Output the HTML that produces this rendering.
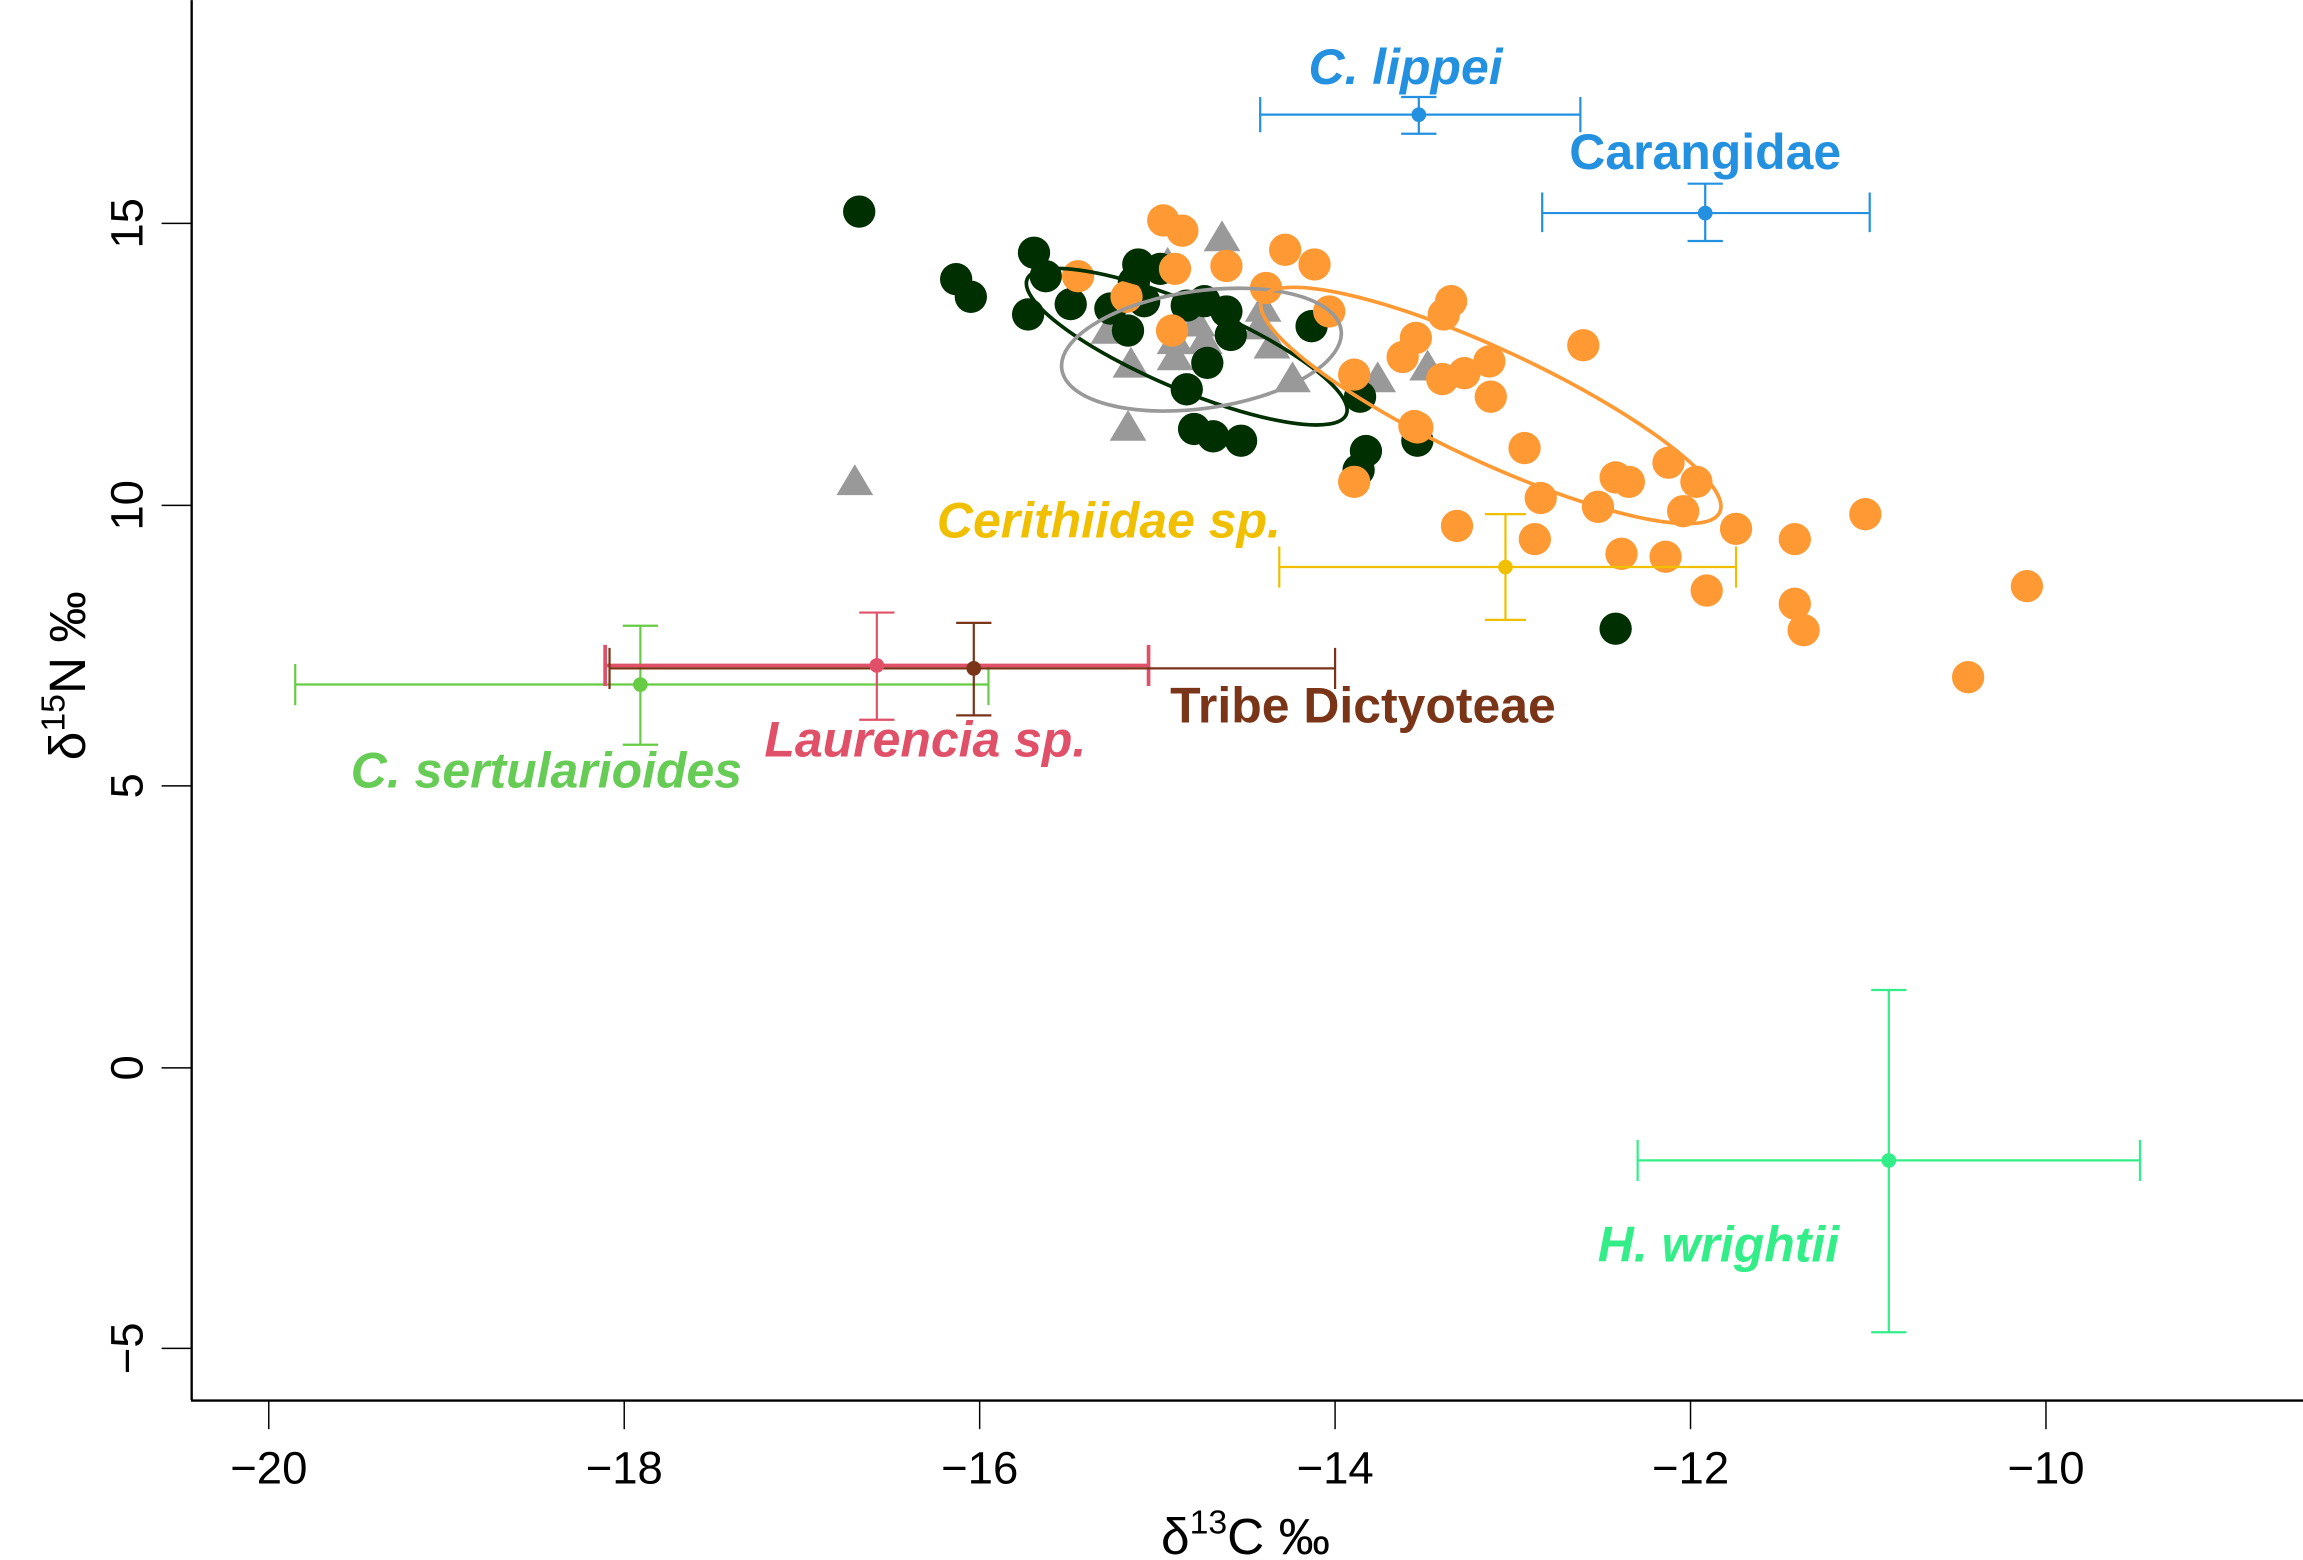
<!DOCTYPE html>
<html><head><style>html,body{margin:0;padding:0;background:#fff}svg{display:block}</style></head>
<body>
<svg width="2303" height="1560" viewBox="0 0 1568 1062" xmlns="http://www.w3.org/2000/svg" font-family="Liberation Sans, Arial, sans-serif">
<rect width="1568" height="1062" fill="#fff"/>
<line x1="130.5" y1="0" x2="130.5" y2="953" stroke="#000" stroke-width="1.6"/>
<line x1="130" y1="953.5" x2="1568" y2="953.5" stroke="#000" stroke-width="1.6"/>
<g stroke="#000" stroke-width="1">
<line x1="183" y1="953" x2="183" y2="973"/><line x1="425" y1="953" x2="425" y2="973"/><line x1="667" y1="953" x2="667" y2="973"/><line x1="909" y1="953" x2="909" y2="973"/><line x1="1151" y1="953" x2="1151" y2="973"/><line x1="1393" y1="953" x2="1393" y2="973"/>
<line x1="110" y1="152" x2="130" y2="152"/><line x1="110" y1="344" x2="130" y2="344"/><line x1="110" y1="535" x2="130" y2="535"/><line x1="110" y1="727" x2="130" y2="727"/><line x1="110" y1="918" x2="130" y2="918"/>
</g>
<g font-size="31" text-anchor="middle" fill="#000">
<text x="183" y="1010">−20</text><text x="425" y="1010">−18</text><text x="667" y="1010">−16</text><text x="909" y="1010">−14</text><text x="1151" y="1010">−12</text><text x="1393" y="1010">−10</text>
<text transform="translate(97,152) rotate(-90)">15</text>
<text transform="translate(97,344) rotate(-90)">10</text>
<text transform="translate(97,535) rotate(-90)">5</text>
<text transform="translate(97,727) rotate(-90)">0</text>
<text transform="translate(97,918) rotate(-90)">−5</text>
</g>
<text x="848" y="1058" font-size="35" text-anchor="middle">δ<tspan font-size="23" dy="-14">13</tspan><tspan dy="14">C ‰</tspan></text>
<text transform="translate(58,460) rotate(-90)" font-size="35" text-anchor="middle">δ<tspan font-size="23" dy="-14">15</tspan><tspan dy="14">N ‰</tspan></text>

<g fill="#999">
<path d="M582,316 l-12.5,21 h25z"/><path d="M832,150 l-12.5,21 h25z"/><path d="M795,168 l-12.5,21 h25z"/><path d="M755,213 l-12.5,21 h25z"/><path d="M770,236 l-12.5,21 h25z"/><path d="M800,220 l-12.5,21 h25z"/><path d="M815,208 l-12.5,21 h25z"/><path d="M860,198 l-12.5,21 h25z"/><path d="M866,223 l-12.5,21 h25z"/><path d="M880,246 l-12.5,21 h25z"/><path d="M938,246 l-12.5,21 h25z"/><path d="M972,238 l-12.5,21 h25z"/><path d="M768,279 l-12.5,21 h25z"/><path d="M820,220 l-12.5,21 h25z"/><path d="M800,231 l-12.5,21 h25z"/><path d="M858,210 l-12.5,21 h25z"/>
</g>
<g fill="#002f02">
<circle cx="585" cy="144" r="11"/><circle cx="651" cy="190" r="11"/><circle cx="661" cy="202" r="11"/><circle cx="704" cy="172" r="11"/><circle cx="712" cy="188" r="11"/><circle cx="700" cy="214" r="11"/><circle cx="729" cy="207" r="11"/><circle cx="756" cy="210" r="11"/><circle cx="768" cy="225" r="11"/><circle cx="775" cy="180" r="11"/><circle cx="772" cy="192" r="11"/><circle cx="779" cy="205" r="11"/><circle cx="808" cy="208" r="11"/><circle cx="820" cy="205" r="11"/><circle cx="835" cy="212" r="11"/><circle cx="838" cy="228" r="11"/><circle cx="822" cy="247" r="11"/><circle cx="808" cy="265" r="11"/><circle cx="813" cy="292" r="11"/><circle cx="826" cy="297" r="11"/><circle cx="845" cy="300" r="11"/><circle cx="893" cy="222" r="11"/><circle cx="926" cy="270" r="11"/><circle cx="930" cy="307" r="11"/><circle cx="925" cy="320" r="11"/><circle cx="965" cy="300" r="11"/><circle cx="1100" cy="428" r="11"/><circle cx="790" cy="183" r="11"/>
</g>
<g fill="#ff9933">
<circle cx="792" cy="150" r="11"/><circle cx="805" cy="157" r="11"/><circle cx="734" cy="188" r="11"/><circle cx="800" cy="183" r="11"/><circle cx="835" cy="181" r="11"/><circle cx="875" cy="170" r="11"/><circle cx="895" cy="180" r="11"/><circle cx="862" cy="196" r="11"/><circle cx="767" cy="202" r="11"/><circle cx="798" cy="225" r="11"/><circle cx="905" cy="212" r="11"/><circle cx="955" cy="243" r="11"/><circle cx="988" cy="205" r="11"/><circle cx="983" cy="214" r="11"/><circle cx="922" cy="255" r="11"/><circle cx="982" cy="258" r="11"/><circle cx="997" cy="254" r="11"/><circle cx="1014" cy="246" r="11"/><circle cx="1015" cy="270" r="11"/><circle cx="1078" cy="235" r="11"/><circle cx="965" cy="291" r="11"/><circle cx="1038" cy="305" r="11"/><circle cx="1049" cy="339" r="11"/><circle cx="1045" cy="367" r="11"/><circle cx="992" cy="358" r="11"/><circle cx="922" cy="328" r="11"/><circle cx="1100" cy="325" r="11"/><circle cx="1109" cy="328" r="11"/><circle cx="1088" cy="345" r="11"/><circle cx="1104" cy="377" r="11"/><circle cx="1136" cy="315" r="11"/><circle cx="1155" cy="328" r="11"/><circle cx="1146" cy="348" r="11"/><circle cx="1134" cy="379" r="11"/><circle cx="1182" cy="360" r="11"/><circle cx="1162" cy="402" r="11"/><circle cx="1222" cy="367" r="11"/><circle cx="1222" cy="411" r="11"/><circle cx="1228" cy="429" r="11"/><circle cx="1270" cy="350" r="11"/><circle cx="1340" cy="461" r="11"/><circle cx="1380" cy="399" r="11"/><circle cx="963" cy="290" r="11"/><circle cx="964" cy="230" r="11"/>
</g>
<ellipse cx="808" cy="236" rx="118" ry="29" transform="rotate(23 808 236)" fill="none" stroke="#002f02" stroke-width="2.5"/>
<ellipse cx="818" cy="238" rx="96" ry="40" transform="rotate(-8 818 238)" fill="none" stroke="#999" stroke-width="2.5"/>
<ellipse cx="1015" cy="276" rx="172" ry="38" transform="rotate(25 1015 276)" fill="none" stroke="#ff9933" stroke-width="2.5"/>

<g stroke-width="1.5" fill="none">
<g stroke="#2390e0"><path d="M858,78H1076M858,66V90M1076,66V90M966,66V91M954,66H978M954,91H978"/><path d="M1050,145H1273M1050,131V158M1273,131V158M1161,125V164M1149,125H1173M1149,164H1173"/></g>
<g stroke="#f0c000"><path d="M871,386H1182M871,372V400M1182,372V400M1025,350V422M1011,350H1039M1011,422H1039"/></g>
<g stroke="#66cc44"><path d="M201,466H673M201,452V480M673,452V480M436,426V507M424,426H448M424,507H448"/></g>
<g stroke="#e05068" stroke-width="2.5"><path d="M412,453H782M412,439V467M782,439V467"/><path d="M597,417V490M585,417H609M585,490H609" stroke-width="1.5"/></g>
<g stroke="#7a3518"><path d="M415,455H909M415,441V469M909,441V469M663,424V487M651,424H675M651,487H675"/></g>
<g stroke="#33ee88"><path d="M1115,790H1457M1115,776V804M1457,776V804M1286,674V907M1274,674H1298M1274,907H1298"/></g>
</g>
<circle cx="966" cy="78" r="5" fill="#2390e0"/><circle cx="1161" cy="145" r="5" fill="#2390e0"/>
<circle cx="1025" cy="386" r="5" fill="#f0c000"/><circle cx="436" cy="466" r="5" fill="#66cc44"/>
<circle cx="597" cy="453" r="5" fill="#e05068"/><circle cx="663" cy="455" r="5" fill="#7a3518"/>
<circle cx="1286" cy="790" r="5" fill="#33ee88"/>

<g font-size="34" font-weight="bold" text-anchor="middle">
<text x="957" y="57" fill="#2390e0" font-style="italic">C. lippei</text>
<text x="1161" y="115" fill="#2390e0">Carangidae</text>
<text x="755" y="366" fill="#f0c000" font-style="italic">Cerithiidae sp.</text>
<text x="928" y="492" fill="#7a3518">Tribe Dictyoteae</text>
<text x="630" y="515" fill="#e05068" font-style="italic">Laurencia sp.</text>
<text x="372" y="536" fill="#66cc55" font-style="italic">C. sertularioides</text>
<text x="1170" y="859" fill="#33ee88" font-style="italic">H. wrightii</text>
</g>
</svg>
</body></html>
